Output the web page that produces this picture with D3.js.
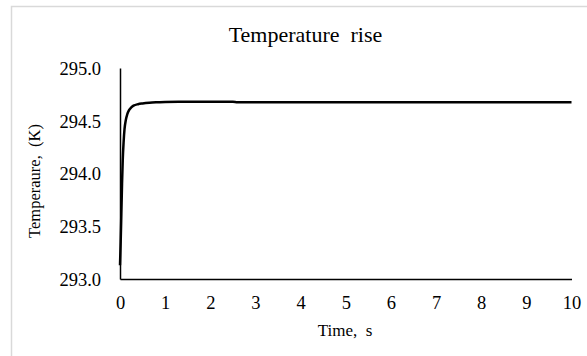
<!DOCTYPE html>
<html><head><meta charset="utf-8">
<script src="https://cdn.jsdelivr.net/npm/d3@7"></script>
<style>html,body{margin:0;padding:0;background:#fff;}svg{display:block;}</style>
</head><body>
<svg id="chart" width="587" height="356"></svg>
<script>
const title = "Temperature  rise";
const xTitle = "Time,  s";
const yTitle = "Temperaure,  (K)";
const xTicks = [0,1,2,3,4,5,6,7,8,9,10];
const yTicks = [293.0,293.5,294.0,294.5,295.0];
const time = [0,0.015,0.03,0.045,0.06,0.08,0.1,0.13,0.16,0.2,0.25,0.3,0.4,0.5,0.65,0.8,1.0,1.3,2.0,2.5,2.6,4,6,8,10];
const temp = [293.13,293.35,293.62,293.9,294.12,294.3,294.42,294.51,294.56,294.6,294.627,294.643,294.657,294.664,294.671,294.675,294.678,294.68,294.68,294.68,294.676,294.676,294.676,294.676,294.676];

const svg = d3.select("#chart");
const W = 587, H = 356;
const x = d3.scaleLinear().domain([0,10]).range([120, 571.5]);
const y = d3.scaleLinear().domain([293,295]).range([279, 68]);

// outer border
svg.append("rect").attr("x",11.5).attr("y",6.5).attr("width",W).attr("height",H)
  .attr("fill","none").attr("stroke","#d9d9d9").attr("stroke-width",1.5);

const font = "'Liberation Serif','Times New Roman',serif";

svg.append("text").attr("x",305.5).attr("y",42).attr("text-anchor","middle")
  .attr("font-family",font).attr("font-size",22).attr("fill","#000")
  .style("white-space","pre").text(title);

const xAxis = svg.append("g").attr("transform",`translate(0,${y(293)})`)
  .call(d3.axisBottom(x).tickValues(xTicks).tickSize(0).tickPadding(18).tickFormat(d3.format("d")));
const yAxis = svg.append("g").attr("transform",`translate(${x(0)},0)`)
  .call(d3.axisLeft(y).tickValues(yTicks).tickSize(0).tickPadding(19).tickFormat(d3.format(".1f")));
[xAxis,yAxis].forEach(g=>{
  g.selectAll(".domain").attr("stroke","#000").attr("stroke-width",1.5);
  g.selectAll("text").attr("font-family",font).attr("font-size",18.5).attr("fill","#000");
});
xAxis.selectAll("text").attr("dy","0.35em").attr("y",24);
yAxis.selectAll("text").attr("dy","0.35em");

svg.append("text").attr("x",345).attr("y",336).attr("text-anchor","middle")
  .attr("font-family",font).attr("font-size",17).attr("fill","#000")
  .style("white-space","pre").text(xTitle);
svg.append("text").attr("transform","translate(40,181) rotate(-90)").attr("text-anchor","middle")
  .attr("font-family",font).attr("font-size",16.5).attr("fill","#000")
  .style("white-space","pre").text(yTitle);

const pts = time.map((t,i)=>[t,temp[i]]);
svg.append("path").datum(pts)
  .attr("d", d3.line().x(d=>x(d[0])).y(d=>y(d[1])).curve(d3.curveMonotoneX))
  .attr("fill","none").attr("stroke","#000").attr("stroke-width",2.5);
</script>
</body></html>
